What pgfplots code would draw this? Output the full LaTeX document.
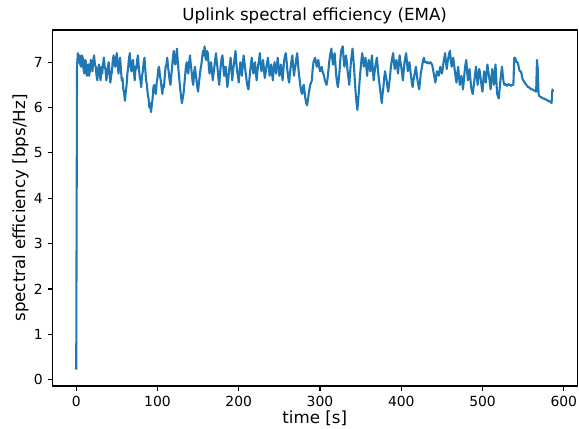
\documentclass[border=0pt]{standalone}
\usepackage{fontspec}
\setmainfont{DejaVu Sans}
\usepackage{pgfplots}
\pgfplotsset{compat=1.18}
\definecolor{mplblue}{HTML}{1F77B4}
\begin{document}
\begin{tikzpicture}
\begin{axis}[
  name=a,
  scale only axis,
  width=377.7pt, height=256.3pt,
  xmin=-29.35, xmax=616.35,
  ymin=-0.14, ymax=7.71,
  xtick={0,100,200,300,400,500,600},
  ytick={0,1,2,3,4,5,6,7},
  minor tick num=0,
  tick align=outside,
  major tick length=3.5pt,
  every tick/.style={black, line width=0.8pt},
  axis line style={line width=0.8pt},
  xtick pos=bottom, ytick pos=left,
  /pgf/number format/assume math mode=true,
  ticklabel style={font=\fontsize{10}{12}\selectfont},
  title={Uplink spectral efficiency (EMA)},
  every axis title/.style={font=\fontsize{12}{14}\selectfont, at={(0.5,1)}, anchor=base, yshift=7pt},
  xlabel={time [s]},
  ylabel={spectral efficiency [bps/Hz]},
  label style={font=\fontsize{12}{14}\selectfont},
  xlabel style={at={(axis description cs:0.5,0)}, anchor=base, yshift=-27pt},
  ylabel style={at={(axis description cs:0,0.5)}, anchor=center, yshift=23pt},
]
\addplot[mplblue, line width=1.5pt, line join=round, no marks] coordinates {
(0,0.22)(1,6.9)(2,7.2)(3,7.0)(4,7.15)(5,6.95)(6,6.9)(7,7.15)(8,7.1)(9,6.85)
(10,6.75)(11,7.05)(12,7.0)(13,6.7)(14,6.85)(15,6.95)(16,6.7)(17,6.85)(18,7.05)(19,6.9)
(20,6.8)(21,7.05)(22,7.15)(23,6.95)(24,6.9)(25,6.7)(26,6.6)(27,6.85)(28,6.95)(29,6.75)
(30,6.6)(31,6.9)(32,6.75)(33,6.95)(34,7.1)(35,6.9)(36,6.85)(37,6.6)(38,6.7)(39,6.9)
(40,7.0)(41,6.8)(42,6.55)(43,6.7)(44,6.8)(45,7.05)(46,7.15)(47,6.95)(48,6.9)(49,7.1)
(50,7.2)(51,6.95)(52,6.75)(53,6.95)(54,7.1)(55,6.85)(56,6.6)(57,6.65)(58,6.4)(59,6.3)
(60,6.15)(61,6.35)(62,6.5)(63,6.75)(64,6.9)(65,7.1)(66,7.2)(67,6.9)(68,6.8)(69,7.0)
(70,7.05)(71,6.8)(72,6.6)(73,6.9)(74,6.85)(75,7.05)(76,7.15)(77,6.9)(78,6.7)(79,6.6)
(80,6.45)(81,6.7)(82,6.8)(83,7.0)(84,7.1)(85,6.85)(86,6.6)(87,6.5)(88,6.3)(89,6.2)
(90,6.0)(91,6.1)(92,5.9)(93,6.05)(94,6.2)(95,6.45)(96,6.5)(97,6.35)(98,6.3)(99,6.55)
(100,6.65)(101,6.85)(102,6.9)(103,6.7)(104,6.6)(105,6.45)(106,6.3)(107,6.5)(108,6.45)(109,6.7)
(110,6.9)(111,6.95)(112,7.1)(113,6.9)(114,6.75)(115,6.6)(116,6.5)(117,6.7)(118,6.9)(119,7.1)
(120,7.25)(121,7.0)(122,6.95)(123,7.15)(124,7.3)(125,7.0)(126,6.8)(127,6.6)(128,6.4)(129,6.25)
(130,6.1)(131,6.2)(132,6.3)(133,6.5)(134,6.7)(135,6.9)(136,7.0)(137,6.8)(138,6.75)(139,7.0)
(140,7.15)(141,6.95)(142,6.8)(143,6.6)(144,6.5)(145,6.75)(146,6.9)(147,6.75)(148,6.6)(149,6.45)
(150,6.35)(151,6.55)(152,6.7)(153,6.85)(154,6.95)(155,7.1)(156,7.25)(157,7.15)(158,7.35)(159,7.1)
(160,7.05)(161,7.25)(162,7.2)(163,6.95)(164,6.75)(165,6.9)(166,7.0)(167,6.8)(168,6.6)(169,6.75)
(170,6.9)(171,7.05)(172,7.2)(173,7.0)(174,6.85)(175,6.65)(176,6.5)(177,6.75)(178,6.95)(179,7.1)
(180,7.15)(181,6.9)(182,6.7)(183,6.85)(184,6.9)(185,6.65)(186,6.45)(187,6.6)(188,6.8)(189,6.95)
(190,7.1)(191,6.85)(192,6.6)(193,6.8)(194,6.95)(195,7.1)(196,7.25)(197,7.0)(198,6.8)(199,6.7)
(200,6.55)(201,6.8)(202,7.0)(203,6.85)(204,6.7)(205,6.95)(206,7.15)(207,7.0)(208,6.85)(209,6.7)
(210,6.55)(211,6.45)(212,6.4)(213,6.6)(214,6.8)(215,6.95)(216,7.1)(217,6.9)(218,6.75)(219,6.9)
(220,7.0)(221,6.8)(222,6.6)(223,6.8)(224,6.95)(225,7.05)(226,7.2)(227,6.95)(228,6.8)(229,6.95)
(230,7.05)(231,6.85)(232,6.65)(233,6.75)(234,6.9)(235,7.0)(236,7.1)(237,6.9)(238,6.7)(239,6.85)
(240,6.95)(241,6.75)(242,6.6)(243,6.85)(244,7.0)(245,6.85)(246,6.75)(247,6.95)(248,7.1)(249,6.9)
(250,6.7)(251,6.85)(252,6.95)(253,6.75)(254,6.6)(255,6.85)(256,7.05)(257,7.15)(258,7.2)(259,7.0)
(260,6.8)(261,6.65)(262,6.55)(263,6.75)(264,6.9)(265,7.05)(266,7.15)(267,6.9)(268,6.7)(269,6.85)
(270,6.95)(271,7.1)(272,7.2)(273,6.95)(274,6.75)(275,6.6)(276,6.45)(277,6.35)(278,6.3)(279,6.45)
(280,6.5)(281,6.35)(282,6.2)(283,6.1)(284,6.05)(285,6.15)(286,6.3)(287,6.4)(288,6.5)(289,6.55)
(290,6.6)(291,6.85)(292,7.0)(293,7.05)(294,7.1)(295,7.0)(296,6.9)(297,7.0)(298,7.05)(299,6.9)
(300,6.8)(301,6.85)(302,6.9)(303,6.8)(304,6.75)(305,6.7)(306,6.6)(307,6.55)(308,6.5)(309,6.6)
(310,6.75)(311,6.95)(312,7.1)(313,7.2)(314,7.3)(315,7.1)(316,6.95)(317,7.1)(318,7.2)(319,6.95)
(320,6.7)(321,6.55)(322,6.45)(323,6.6)(324,6.8)(325,7.05)(326,7.25)(327,7.3)(328,7.35)(329,7.1)
(330,6.9)(331,7.05)(332,7.15)(333,7.0)(334,6.8)(335,6.65)(336,6.5)(337,6.75)(338,7.0)(339,7.15)
(340,7.3)(341,7.1)(342,6.85)(343,6.55)(344,6.3)(345,6.1)(346,5.95)(347,6.15)(348,6.4)(349,6.65)
(350,6.85)(351,7.05)(352,7.2)(353,7.05)(354,6.9)(355,7.0)(356,7.1)(357,6.9)(358,6.7)(359,6.9)
(360,7.05)(361,6.9)(362,6.8)(363,7.0)(364,7.15)(365,6.85)(366,6.6)(367,6.75)(368,6.9)(369,7.0)
(370,7.1)(371,6.9)(372,6.7)(373,6.55)(374,6.4)(375,6.25)(376,6.1)(377,6.3)(378,6.45)(379,6.65)
(380,6.8)(381,6.7)(382,6.6)(383,6.45)(384,6.35)(385,6.5)(386,6.65)(387,6.85)(388,7.0)(389,7.1)
(390,7.2)(391,7.0)(392,6.85)(393,6.95)(394,7.05)(395,6.9)(396,6.75)(397,6.95)(398,7.15)(399,7.0)
(400,6.9)(401,6.75)(402,6.6)(403,6.8)(404,7.0)(405,7.1)(406,7.2)(407,7.0)(408,6.8)(409,6.9)
(410,7.0)(411,6.85)(412,6.7)(413,6.55)(414,6.45)(415,6.6)(416,6.7)(417,6.8)(418,6.9)(419,6.75)
(420,6.6)(421,6.5)(422,6.4)(423,6.55)(424,6.75)(425,6.85)(426,6.95)(427,7.05)(428,7.1)(429,7.0)
(430,7.0)(431,7.0)(432,6.98)(433,7.0)(434,6.97)(435,6.98)(436,7.0)(437,6.97)(438,6.95)(439,6.85)
(440,6.75)(441,6.65)(442,6.55)(443,6.7)(444,6.8)(445,6.75)(446,6.7)(447,6.8)(448,6.9)(449,6.8)
(450,6.75)(451,6.85)(452,7.0)(453,7.1)(454,7.2)(455,7.0)(456,6.85)(457,7.0)(458,7.1)(459,7.2)
(460,7.25)(461,7.05)(462,6.9)(463,7.0)(464,7.1)(465,6.95)(466,6.8)(467,6.65)(468,6.55)(469,6.75)
(470,6.9)(471,6.7)(472,6.5)(473,6.6)(474,6.7)(475,6.55)(476,6.4)(477,6.6)(478,6.8)(479,6.95)
(480,7.05)(481,6.8)(482,6.6)(483,6.75)(484,6.85)(485,6.65)(486,6.45)(487,6.35)(488,6.3)(489,6.45)
(490,6.6)(491,6.75)(492,6.9)(493,6.7)(494,6.5)(495,6.7)(496,6.85)(497,6.75)(498,6.6)(499,6.45)
(500,6.35)(501,6.6)(502,6.8)(503,6.65)(504,6.55)(505,6.75)(506,6.95)(507,6.8)(508,6.7)(509,6.55)
(510,6.4)(511,6.65)(512,6.85)(513,6.65)(514,6.5)(515,6.75)(516,6.95)(517,6.6)(518,6.3)(519,6.25)
(520,6.2)(521,6.4)(522,6.6)(523,6.75)(524,6.9)(525,6.7)(526,6.55)(527,6.5)(528,6.52)(529,6.5)
(530,6.48)(531,6.5)(532,6.52)(533,6.5)(534,6.5)(535,6.48)(536,6.5)(537,6.5)(538,6.5)(539,7.1)
(540,7.1)(541,7.05)(542,7.0)(543,7.0)(544,6.95)(545,6.85)(546,6.8)(547,6.8)(548,6.75)(549,6.65)
(550,6.6)(551,6.58)(552,6.55)(553,6.52)(554,6.5)(555,6.48)(556,6.45)(557,6.45)(558,6.43)(559,6.42)
(560,6.4)(561,6.4)(562,6.4)(563,6.38)(564,6.38)(565,6.36)(566,6.35)(567,7.05)(568,6.85)(569,6.3)
(570,6.25)(571,6.24)(572,6.23)(573,6.22)(574,6.2)(575,6.2)(576,6.2)(577,6.18)(578,6.18)(579,6.17)
(580,6.15)(581,6.15)(582,6.14)(583,6.13)(584,6.12)(585,6.1)(586,6.4)(587,6.35)
};
\end{axis}
\pgfresetboundingbox
\path[use as bounding box] ([shift={(-37.7pt,-30.2pt)}]a.south west) rectangle ([shift={(1.4pt,21.6pt)}]a.north east);
\end{tikzpicture}
\end{document}
